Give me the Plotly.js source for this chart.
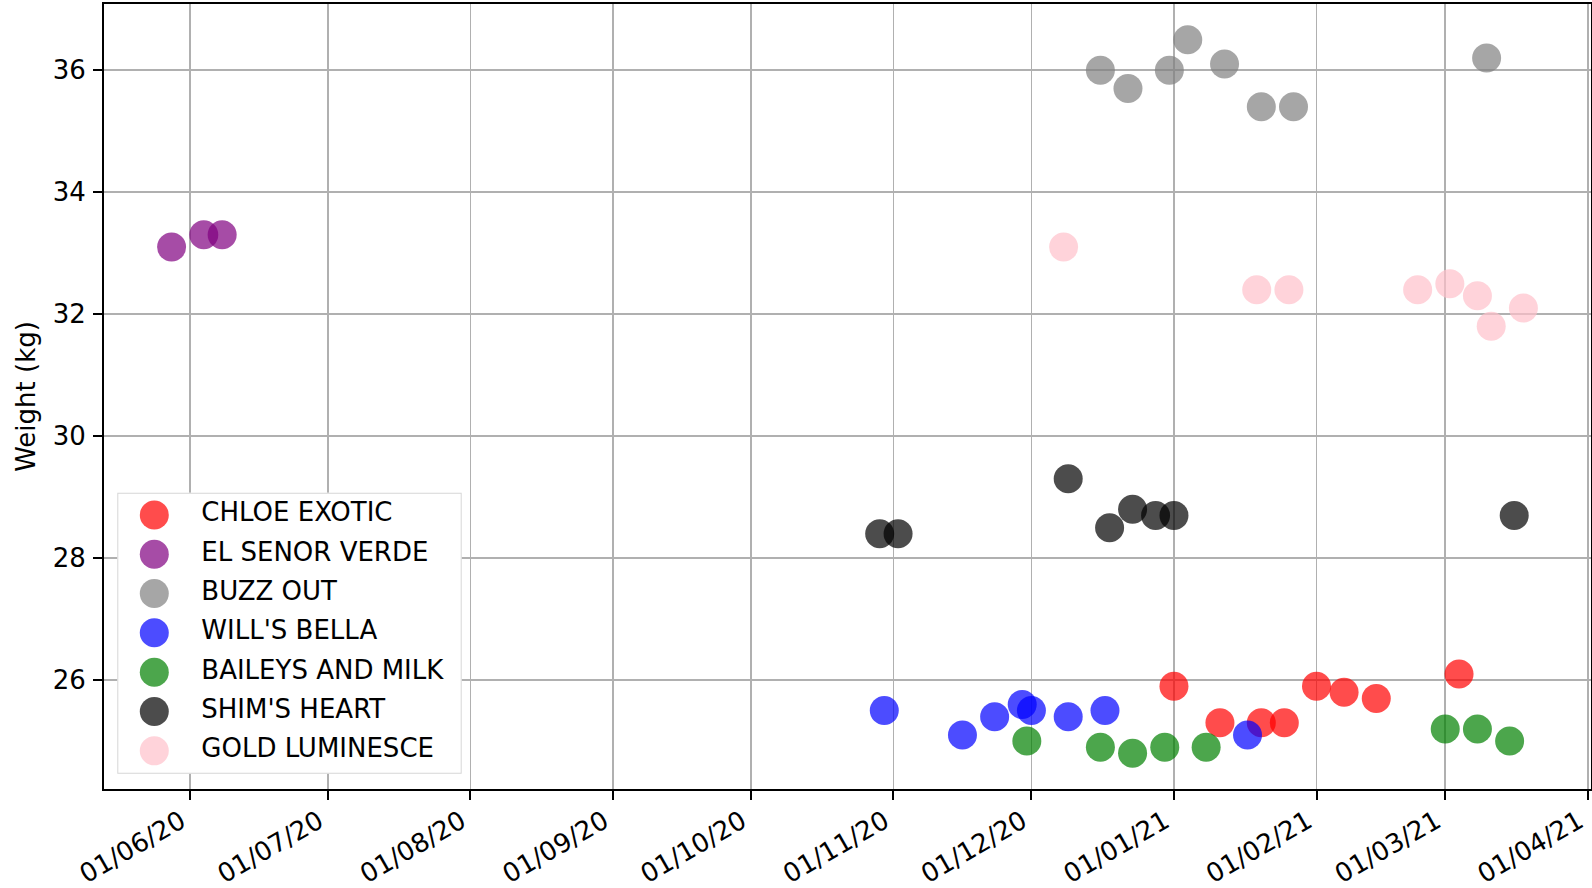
<!DOCTYPE html>
<html>
<head>
<meta charset="utf-8">
<script src="https://cdn.plot.ly/plotly-3.0.1.min.js"></script>
<style>html,body{margin:0;padding:0;background:#fff;}#chart{width:1592px;height:888px;}</style>
</head>
<body>
<div id="chart"></div>
<script>
// ---- data ----
const seriesNames = ["CHLOE EXOTIC", "EL SENOR VERDE", "BUZZ OUT", "WILL'S BELLA", "BAILEYS AND MILK", "SHIM'S HEART", "GOLD LUMINESCE"];
const seriesColors = ["#ff0000", "#800080", "#808080", "#0000ff", "#008000", "#000000", "#ffc0cb"];

const chloeDates = ["2021-01-01", "2021-01-11", "2021-01-20", "2021-01-25", "2021-02-01", "2021-02-07", "2021-02-14", "2021-03-04"];
const chloeWeights = [25.9, 25.3, 25.3, 25.3, 25.9, 25.8, 25.7, 26.1];

const verdeDates = ["2020-05-28", "2020-06-04", "2020-06-08"];
const verdeWeights = [33.1, 33.3, 33.3];

const buzzDates = ["2020-12-16", "2020-12-22", "2020-12-31", "2021-01-04", "2021-01-12", "2021-01-20", "2021-01-27", "2021-03-10"];
const buzzWeights = [36.0, 35.7, 36.0, 36.5, 36.1, 35.4, 35.4, 36.2];

const bellaDates = ["2020-10-30", "2020-11-16", "2020-11-23", "2020-11-29", "2020-12-01", "2020-12-09", "2020-12-17", "2021-01-17"];
const bellaWeights = [25.5, 25.1, 25.4, 25.6, 25.5, 25.4, 25.5, 25.1];

const baileysDates = ["2020-11-30", "2020-12-16", "2020-12-23", "2020-12-30", "2021-01-08", "2021-03-01", "2021-03-08", "2021-03-15"];
const baileysWeights = [25.0, 24.9, 24.8, 24.9, 24.9, 25.2, 25.2, 25.0];

const shimDates = ["2020-10-29", "2020-11-02", "2020-12-09", "2020-12-18", "2020-12-23", "2020-12-28", "2021-01-01", "2021-03-16"];
const shimWeights = [28.4, 28.4, 29.3, 28.5, 28.8, 28.7, 28.7, 28.7];

const goldDates = ["2020-12-08", "2021-01-19", "2021-01-26", "2021-02-23", "2021-03-02", "2021-03-08", "2021-03-11", "2021-03-18"];
const goldWeights = [33.1, 32.4, 32.4, 32.4, 32.5, 32.3, 31.8, 32.1];

const yTicks = [26, 28, 30, 32, 34, 36];

const allDates = [chloeDates, verdeDates, buzzDates, bellaDates, baileysDates, shimDates, goldDates];
const allWeights = [chloeWeights, verdeWeights, buzzWeights, bellaWeights, baileysWeights, shimWeights, goldWeights];

// ---- styling ----
const FONT = "DejaVu Sans, Liberation Sans, sans-serif";
const FS = 26;
const MS = 29;
const ALPHA = 0.7;

const traces = seriesNames.map((name, i) => ({
  type: "scatter",
  mode: "markers",
  name: name,
  x: allDates[i],
  y: allWeights[i],
  xaxis: "x",
  yaxis: "y",
  marker: {color: seriesColors[i], size: MS, opacity: ALPHA, line: {width: 0}},
  showlegend: false,
  hoverinfo: "x+y+name"
}));

// legend drawn on an auxiliary axis pair
const legendRows = seriesNames.map((_, i) => i);
traces.push({
  type: "scatter",
  mode: "markers",
  x: seriesNames.map(() => 37),
  y: legendRows,
  xaxis: "x2",
  yaxis: "y2",
  marker: {color: seriesColors, size: MS, opacity: ALPHA, line: {width: 0}},
  showlegend: false,
  hoverinfo: "skip",
  cliponaxis: false
});
traces.push({
  type: "scatter",
  mode: "text",
  x: seriesNames.map(() => 84),
  y: legendRows,
  text: seriesNames,
  textposition: "middle right",
  textfont: {family: FONT, size: FS, color: "#000"},
  xaxis: "x2",
  yaxis: "y2",
  showlegend: false,
  hoverinfo: "skip",
  cliponaxis: false
});

const layout = {
  width: 1592,
  height: 888,
  margin: {l: 104, r: 1, t: 4, b: 99, pad: 0},
  paper_bgcolor: "#ffffff",
  plot_bgcolor: "#ffffff",
  font: {family: FONT, size: FS, color: "#000"},
  showlegend: false,
  xaxis: {
    type: "date",
    range: ["2020-05-13 07:12", "2021-04-01 16:48"],
    tick0: "2020-06-01",
    dtick: "M1",
    tickformat: "%d/%m/%y",
    tickangle: -30,
    ticks: "outside",
    ticklen: 9,
    tickwidth: 2,
    tickcolor: "#000",
    ticklabelshift: -9,
    ticklabelstandoff: -4,
    ticklabeloverflow: "allow",
    showgrid: true,
    gridcolor: "#b0b0b0",
    gridwidth: 1.6,
    showline: true,
    linecolor: "#000",
    linewidth: 2,
    mirror: true,
    zeroline: false,
    tickfont: {family: FONT, size: FS, color: "#000"},
    automargin: false
  },
  yaxis: {
    range: [24.215, 37.085],
    tickvals: yTicks,
    ticktext: yTicks.map(String),
    ticks: "outside",
    ticklen: 9,
    tickwidth: 2,
    tickcolor: "#000",
    showgrid: true,
    gridcolor: "#b0b0b0",
    gridwidth: 1.6,
    showline: true,
    linecolor: "#000",
    linewidth: 2,
    mirror: true,
    zeroline: false,
    tickfont: {family: FONT, size: FS, color: "#000"},
    ticklabelstandoff: 2,
    title: {text: "Weight (kg)", font: {family: FONT, size: FS, color: "#000"}, standoff: 10},
    automargin: false
  },
  xaxis2: {
    domain: [0.00894, 0.24055],
    range: [0, 344.4],
    anchor: "y2",
    visible: false,
    fixedrange: true
  },
  yaxis2: {
    domain: [0.01949, 0.37745],
    range: [6.581, -0.564],
    anchor: "x2",
    visible: false,
    fixedrange: true
  },
  shapes: [{
    type: "rect",
    xref: "x2", yref: "y2",
    x0: 0, x1: 344.4, y0: -0.564, y1: 6.581,
    fillcolor: "rgba(255,255,255,0.8)",
    line: {color: "rgba(204,204,204,0.8)", width: 2},
    layer: "below"
  }]
};

Plotly.newPlot("chart", traces, layout, {displayModeBar: false, staticPlot: true});
</script>
</body>
</html>
